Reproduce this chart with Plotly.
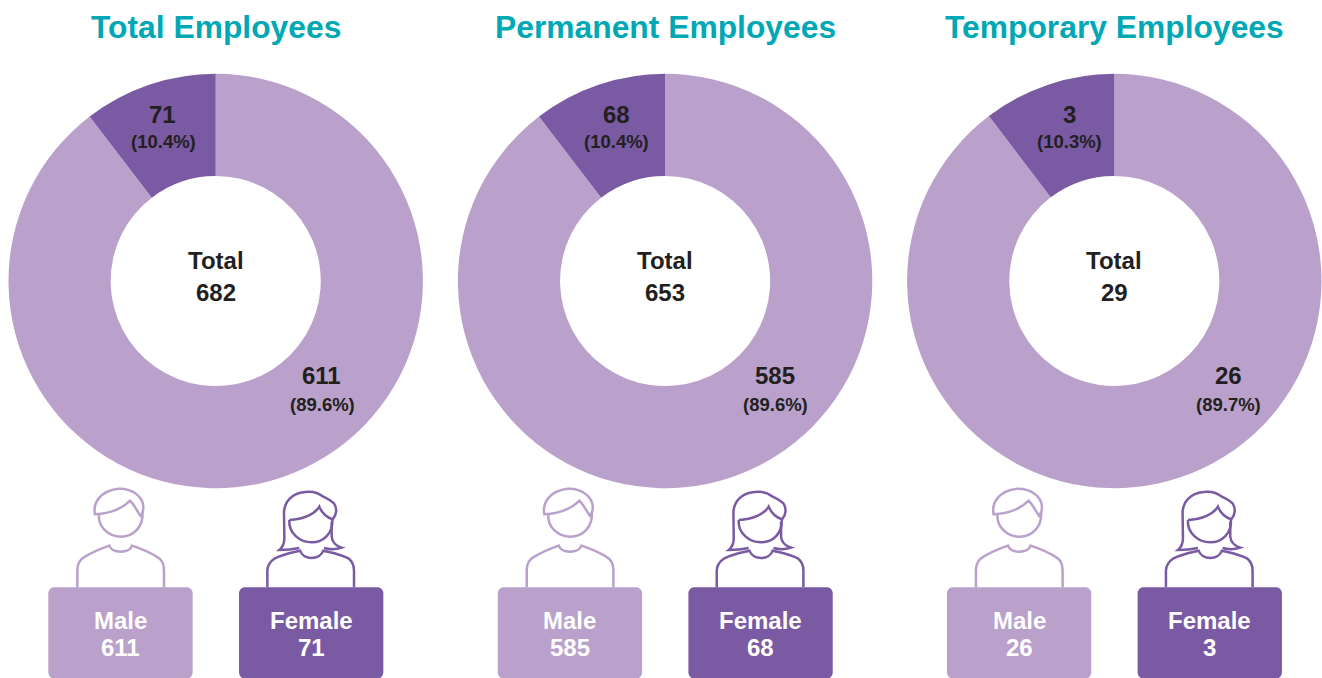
import re
import plotly.graph_objects as go

W, H = 1322, 678
panel_titles = ["Total Employees", "Permanent Employees", "Temporary Employees"]
male_values = [611, 585, 26]
female_values = [71, 68, 3]
totals = [682, 653, 29]
male_pct = ["89.6%", "89.6%", "89.7%"]
female_pct = ["10.4%", "10.4%", "10.3%"]

LIGHT = "#b9a1cb"
DARK = "#7a5aa3"
TEAL = "#00a8b5"
INK = "#231f20"
FONT = "Liberation Sans"
OFFSETS = [0, 449.4, 898.6]
CX, CY, R = 215.7, 281, 207.2
FEMALE_LABEL_DX = [-53, -49, -45]
MALE_LABEL_DX = [106, 110, 114]


def px(x):
    return x / W


def py(y):
    return 1 - y / H


def conv(path, dx):
    """Path drawn in zoom coordinates of the first panel (3x, origin 40,480)."""
    toks = re.findall(r"[MCLZQ]|-?\d+\.?\d*", path)
    out, is_x = [], True
    for t in toks:
        if t in "MCLZQ":
            out.append(t)
            is_x = True
        else:
            v = float(t)
            out.append(f"{px(40 + v / 3 + dx):.5f}" if is_x else f"{py(480 + v / 3):.5f}")
            is_x = not is_x
    return " ".join(out)


MALE_PATHS = [
    # hair
    "M 165 103 C 158 70 180 32 235 26 C 275 24 312 50 310 85 C 310 95 306 103 302 108 "
    "C 292 95 282 72 270 62 C 245 88 210 100 165 103 Z",
    # face
    "M 177 100 C 172 140 205 170 242 170 C 280 170 312 140 307 95",
    # body
    "M 112 322 L 112 270 C 112 250 120 238 135 230 C 160 215 185 205 208 197 "
    "C 212 208 225 215 242 215 C 258 215 272 208 276 197 C 300 205 325 215 350 230 "
    "C 365 238 372 250 372 270 L 372 322",
]
FEMALE_PATHS = [
    # hair
    "M 748 120 C 790 118 825 102 838 80 C 845 98 860 112 878 118 C 890 105 892 85 882 70 "
    "C 870 58 860 55 850 50 C 835 38 815 33 795 36 C 755 40 732 65 732 100 "
    "L 733 175 C 733 190 728 202 718 210 C 738 210 760 208 778 204",
    "M 875 125 L 875 170 C 876 185 888 198 905 203 C 890 208 870 209 852 204",
    # face
    "M 748 120 C 745 160 780 187 815 187 C 850 187 880 160 877 118",
    # body
    "M 682 322 L 682 272 C 682 255 690 245 705 235 C 730 222 755 218 780 212 "
    "C 785 226 800 234 815 234 C 830 234 845 226 850 212 C 875 218 900 222 925 235 "
    "C 938 245 942 255 942 272 L 942 322",
]
BOX_MALE = "M 25 340 C 25 330 33 322 43 322 L 440 322 C 450 322 458 330 458 340 L 458 577 C 458 588 450 596 440 596 L 43 596 C 33 596 25 588 25 577 Z"
BOX_FEMALE = "M 597 340 C 597 330 605 322 615 322 L 1012 322 C 1022 322 1030 330 1030 340 L 1030 577 C 1030 588 1022 596 1012 596 L 615 596 C 605 596 597 588 597 577 Z"

fig = go.Figure()
shapes, notes = [], []


def note(x, y, text, size, color=INK):
    notes.append(dict(
        x=px(x), y=py(y), xref="paper", yref="paper", text=f"<b>{text}</b>", showarrow=False,
        xanchor="center", yanchor="middle",
        font=dict(family=FONT, size=size, color=color),
    ))


for i, dx in enumerate(OFFSETS):
    c = CX + dx
    fig.add_trace(go.Pie(
        values=[male_values[i], female_values[i]],
        labels=["Male", "Female"],
        sort=False, direction="clockwise", rotation=0, hole=0.507,
        marker=dict(colors=[LIGHT, DARK], line=dict(width=0)),
        textinfo="none", hoverinfo="label+value", showlegend=False,
        domain=dict(x=[px(c - R), px(c + R)], y=[py(CY + R), py(CY - R)]),
    ))
    note(c, 27, panel_titles[i], 31.8, TEAL)
    note(c + FEMALE_LABEL_DX[i], 114, female_values[i], 24)
    note(c + FEMALE_LABEL_DX[i] + 0.5, 142, f"({female_pct[i]})", 18.5)
    note(c + MALE_LABEL_DX[i], 375, male_values[i], 24)
    note(c + MALE_LABEL_DX[i] + 0.5, 404, f"({male_pct[i]})", 18.5)
    note(c, 260, "Total", 24)
    note(c, 292, totals[i], 24)

    for p in MALE_PATHS:
        shapes.append(dict(type="path", xref="paper", yref="paper", path=conv(p, dx),
                           line=dict(color=LIGHT, width=2.5), fillcolor="rgba(0,0,0,0)"))
    for p in FEMALE_PATHS:
        shapes.append(dict(type="path", xref="paper", yref="paper", path=conv(p, dx),
                           line=dict(color=DARK, width=2.5), fillcolor="rgba(0,0,0,0)"))
    shapes.append(dict(type="path", xref="paper", yref="paper", path=conv(BOX_MALE, dx),
                       fillcolor=LIGHT, line=dict(width=0)))
    shapes.append(dict(type="path", xref="paper", yref="paper", path=conv(BOX_FEMALE, dx),
                       fillcolor=DARK, line=dict(width=0)))
    note(120.5 + dx, 620, "Male", 24, "white")
    note(120.5 + dx, 647, male_values[i], 24, "white")
    note(311 + dx, 620, "Female", 24, "white")
    note(311 + dx, 647, female_values[i], 24, "white")

fig.update_layout(
    margin=dict(l=0, r=0, t=0, b=0),
    paper_bgcolor="white", plot_bgcolor="white",
    shapes=shapes, annotations=notes,
)
fig.write_html("out.html", config=dict(displayModeBar=False), default_width=f"{W}px", default_height=f"{H}px",
               include_plotlyjs=True)
html = open("out.html").read()
html = html.replace("<head>", "<head><style>html,body{margin:0;padding:0;overflow:hidden}</style>", 1)
open("out.html", "w").write(html)
